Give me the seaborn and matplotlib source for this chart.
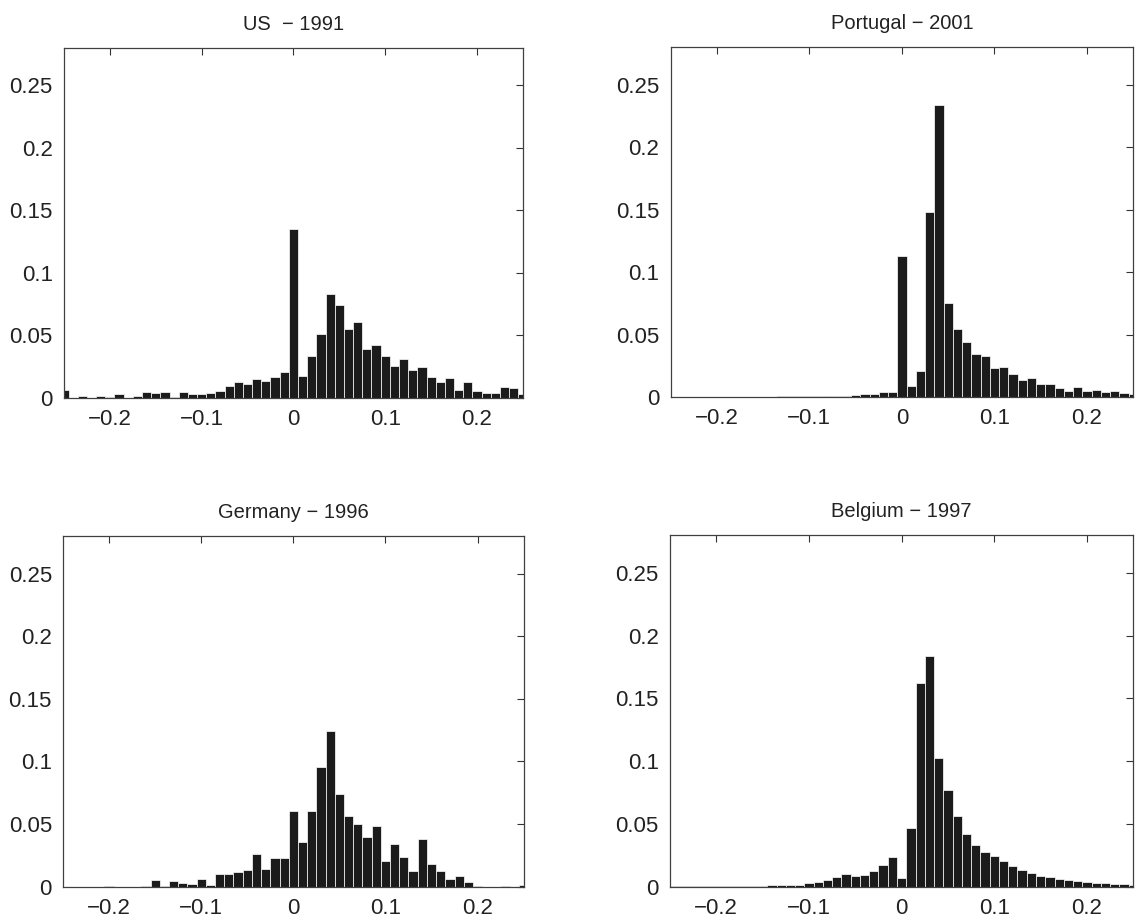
import numpy as np
import pandas as pd
import matplotlib.pyplot as plt
import seaborn as sns

# bins of width 0.01, centred on -0.25 ... 0.25
bin_centers = np.round(np.arange(-25, 26) * 0.01, 2)

us_1991 = [
    0.0065, 0.0, 0.0019, 0.0, 0.0013, 0.0008, 0.0032, 0.0, 0.0016, 0.005,
    0.0038, 0.0045, 0.0005, 0.0048, 0.0035, 0.0035, 0.0037, 0.0055, 0.0095, 0.0125,
    0.0115, 0.0155, 0.0135, 0.017, 0.0205,
    0.1355,
    0.0173, 0.0338, 0.0508, 0.083, 0.0742, 0.055, 0.061, 0.039, 0.0423, 0.0338,
    0.0258, 0.031, 0.0226, 0.0245, 0.0165, 0.0125, 0.016, 0.0066, 0.013, 0.0055,
    0.004, 0.004, 0.009, 0.008, 0.0035,
]
portugal_2001 = [
    0.0003, 0.0003, 0.0003, 0.0003, 0.0003, 0.0003, 0.0003, 0.0004, 0.0004, 0.0005,
    0.0005, 0.0006, 0.0007, 0.0007, 0.0009, 0.0012, 0.001, 0.0009, 0.0009, 0.0012,
    0.002, 0.0028, 0.003, 0.0045, 0.0043,
    0.113,
    0.0093, 0.0213, 0.148, 0.234, 0.0753, 0.0545, 0.0444, 0.0343, 0.0332, 0.0231,
    0.0245, 0.0186, 0.0138, 0.0157, 0.0106, 0.0106, 0.0074, 0.0053, 0.008, 0.005,
    0.006, 0.004, 0.0053, 0.0032, 0.0027,
]
germany_1996 = [
    0.0, 0.0, 0.0, 0.0, 0.0, 0.0008, 0.0, 0.0, 0.0, 0.0005,
    0.0053, 0.0008, 0.0048, 0.0027, 0.0021, 0.0064, 0.0016, 0.0101, 0.0101, 0.0114,
    0.0133, 0.026, 0.0141, 0.0225, 0.0225,
    0.0605,
    0.0353, 0.0605, 0.0955, 0.1242, 0.0743, 0.0563, 0.0499, 0.0393, 0.0486, 0.0207,
    0.034, 0.0234, 0.0127, 0.0377, 0.018, 0.0122, 0.0058, 0.0085, 0.004, 0.0005,
    0.0, 0.0, 0.0008, 0.0, 0.0013,
]
belgium_1997 = [
    0.0004, 0.0004, 0.0004, 0.0004, 0.0005, 0.0005, 0.0005, 0.0006, 0.0006, 0.0007,
    0.0008, 0.001, 0.0012, 0.0013, 0.0016, 0.0027, 0.0037, 0.0053, 0.0074, 0.0101,
    0.0088, 0.0096, 0.0127, 0.0172, 0.0234,
    0.0069,
    0.0464, 0.1627, 0.1839, 0.1024, 0.077, 0.056, 0.0419, 0.0334, 0.0273, 0.0242,
    0.0202, 0.0162, 0.0133, 0.0106, 0.0088, 0.0074, 0.0061, 0.0053, 0.0045, 0.0037,
    0.0032, 0.0027, 0.0024, 0.0019, 0.0016,
]

titles = ["US  \u2212 1991", "Portugal \u2212 2001", "Germany \u2212 1996", "Belgium \u2212 1997"]
series = [us_1991, portugal_2001, germany_1996, belgium_1997]

x_ticks = [-0.2, -0.1, 0, 0.1, 0.2]
x_labels = ["\u22120.2", "\u22120.1", "0", "0.1", "0.2"]
y_ticks = [0, 0.05, 0.1, 0.15, 0.2, 0.25]
y_labels = ["0", "0.05", "0.1", "0.15", "0.2", "0.25"]

sns.set_style("white")
plt.rcParams['font.family'] = ['Liberation Sans', 'DejaVu Sans']

fig = plt.figure(figsize=(11.4, 9.24), dpi=100)
positions = [
    [0.0561, 0.5693, 0.4026, 0.3788],
    [0.5882, 0.5700, 0.4059, 0.3788],
    [0.0553, 0.0404, 0.4040, 0.3795],
    [0.5877, 0.0404, 0.4064, 0.3802],
]

for pos, title, vals in zip(positions, titles, series):
    ax = fig.add_axes(pos)
    df = pd.DataFrame({"change": bin_centers, "share": vals})
    sns.histplot(data=df, x="change", weights="share", binwidth=0.01,
                 binrange=(-0.255, 0.255), ax=ax,
                 color="#1b1b1b", edgecolor="white", linewidth=0.5, alpha=1)
    ax.set_xlim(-0.25, 0.25)
    ax.set_ylim(0, 0.28)
    ax.set_xlabel("")
    ax.set_ylabel("")
    ax.set_xticks(x_ticks)
    ax.set_xticklabels(x_labels)
    ax.set_yticks(y_ticks)
    ax.set_yticklabels(y_labels)
    ax.tick_params(direction="in", top=True, right=True, length=5, width=0.8,
                   color="#333333", labelsize=16, pad=8, labelcolor="#222222")
    for sp in ax.spines.values():
        sp.set_visible(True)
        sp.set_color("#404040")
        sp.set_linewidth(0.9)
    ax.set_title(title, fontsize=14.5, pad=13, color="#222222")

fig.savefig("out.png", dpi=100)
